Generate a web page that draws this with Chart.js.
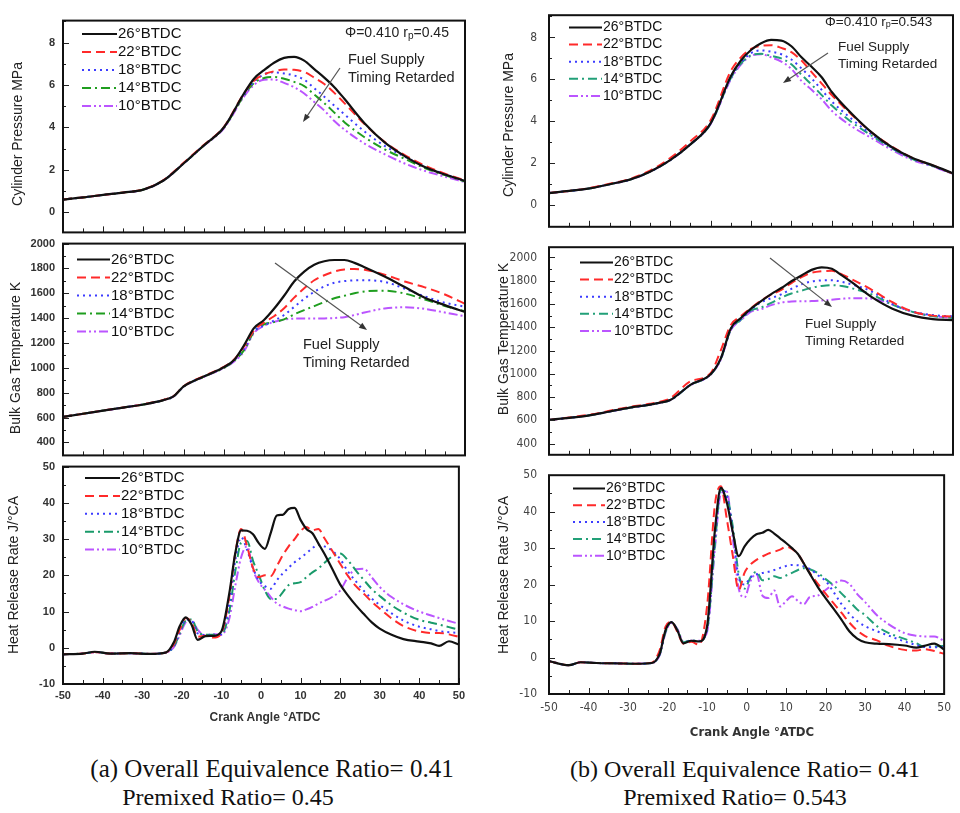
<!DOCTYPE html>
<html>
<head>
<meta charset="utf-8">
<script src="https://cdn.jsdelivr.net/npm/chart.js"></script>
<style>
  body { margin: 0; background: #fff; }
  #fig { position: relative; width: 960px; height: 813px; overflow: hidden; font-family: 'Liberation Sans', Arial, sans-serif; }
  #fig canvas { position: absolute; }
  .lbl { position: absolute; white-space: nowrap; color: #222; }
</style>
</head>
<body>
<div id="fig"></div>
<script>
// series names (legend)
const timingLabels = ['26°BTDC', '22°BTDC', '18°BTDC', '14°BTDC', '10°BTDC'];

// tick labels
const xTicks = [-50, -40, -30, -20, -10, 0, 10, 20, 30, 40, 50];
const yTicksP = [0, 2, 4, 6, 8];
const yTicksT = [400, 600, 800, 1000, 1200, 1400, 1600, 1800, 2000];
const yTicksH = [-10, 0, 10, 20, 30, 40, 50];

// crank angle grids (°ATDC)
const angleP = [-50,-45,-40,-35,-30,-25,-20,-15,-10,-5,-2.5,0,2.5,5,7.5,10,12.5,15,17.5,20,25,30,35,40,45,50];
const angleT = [-50,-45,-40,-35,-30,-25,-22.5,-20,-15,-10,-7.5,-5,-2.5,0,2.5,5,7.5,10,12.5,15,17.5,20,22.5,25,30,35,40,45,50];
const angleH = [-50,-45,-42,-38,-33,-28,-24,-22,-20.5,-19,-17.5,-16,-14,-12,-10,-8,-6.5,-5,-3.5,-2,-0.5,1,2.5,4,5.5,7,8.5,10,11.5,13,14.5,16,18,20,22,24,26,28,30,33,36,40,43,45,47.5,50];

// (a) cylinder pressure, MPa
const pA26 = [0.6,0.7,0.82,0.93,1.07,1.5,2.3,3.15,4.0,5.6,6.3,6.7,7.05,7.28,7.33,7.15,6.75,6.35,5.9,5.35,4.2,3.3,2.65,2.13,1.78,1.48];
const pA22 = [0.6,0.7,0.82,0.93,1.08,1.52,2.33,3.17,4.02,5.6,6.2,6.5,6.65,6.73,6.72,6.62,6.35,6.05,5.63,5.15,4.16,3.32,2.7,2.2,1.82,1.5];
const pA18 = [0.6,0.7,0.82,0.93,1.07,1.5,2.3,3.15,4.0,5.55,6.15,6.5,6.6,6.55,6.45,6.25,5.85,5.45,5.03,4.62,3.81,3.13,2.62,2.15,1.8,1.47];
const pA14 = [0.6,0.7,0.82,0.93,1.07,1.5,2.3,3.14,3.98,5.5,6.1,6.33,6.38,6.3,6.15,5.95,5.55,5.15,4.7,4.25,3.54,2.97,2.52,2.08,1.75,1.45];
const pA10 = [0.6,0.7,0.82,0.93,1.07,1.5,2.3,3.13,3.95,5.45,6.0,6.25,6.26,6.1,5.9,5.6,5.2,4.8,4.3,3.9,3.24,2.74,2.3,1.95,1.68,1.42];

// (a) bulk gas temperature, K
const tA26 = [605,630,656,680,705,740,770,850,930,1005,1060,1180,1320,1385,1475,1580,1695,1775,1830,1858,1868,1868,1845,1810,1735,1650,1565,1505,1450];
const tA22 = [605,630,656,680,706,742,772,852,932,1008,1065,1170,1300,1366,1415,1480,1565,1640,1705,1745,1775,1792,1795,1790,1750,1695,1648,1590,1515];
const tA18 = [605,630,656,680,705,740,770,850,930,1003,1058,1150,1295,1340,1380,1425,1490,1555,1612,1655,1685,1698,1704,1705,1692,1637,1575,1524,1492];
const tA14 = [605,630,656,680,705,740,770,848,928,1000,1055,1140,1290,1350,1368,1390,1430,1465,1497,1530,1560,1580,1600,1615,1621,1598,1550,1498,1455];
const tA10 = [605,630,656,680,705,740,770,846,926,998,1050,1130,1280,1338,1370,1388,1396,1397,1397,1398,1401,1408,1425,1445,1478,1487,1475,1445,1415];

// (a) heat release rate, J/°CA
const hA26 = [-1.8,-1.6,-1.1,-1.6,-1.5,-1.7,-1.3,1.5,6.0,8.4,6.3,2.2,3.2,3.3,4.5,15,26,32.4,32.3,31.3,28.8,27.3,31.8,36.5,36.7,38.3,38.6,35.3,32.8,31.6,28.8,26,21.8,17.5,14.4,11.7,9.3,7.0,5.3,3.6,2.4,1.7,1.2,0.5,1.8,0.9];
const hA22 = [-1.8,-1.6,-1.2,-1.6,-1.5,-1.7,-1.3,1.0,5.0,8.2,7.0,3.0,3.3,2.8,4.0,14,26,32.8,28,22,19.5,20,19.8,22.5,25.5,28,30,32.2,33.3,32.4,32.8,30.3,26.8,23.2,19.8,17,14.9,12.7,10.8,8.1,6.0,4.5,4.1,4.1,3.7,3.0];
const hA18 = [-1.8,-1.6,-1.2,-1.6,-1.5,-1.7,-1.3,0.5,4.5,7.8,7.5,4.0,3.5,3.3,3.8,12,24,30.5,27,22,18.5,17,16.3,18.6,20.5,22.1,23.6,24.8,26.1,27.5,28.4,28,26.8,24.5,21,18.3,15.7,13.6,11.8,9.5,7.5,5.8,5.1,4.6,4.3,4.1];
const hA14 = [-1.8,-1.6,-1.2,-1.6,-1.5,-1.7,-1.3,0.3,4.0,7.5,7.8,4.5,3.6,3.6,3.7,10,21,29,29.5,24,20,15.8,13.4,13.5,15.3,17.3,17.8,18.1,19.5,20.8,21.9,23.4,25.2,26,24.1,21.3,18.7,16.2,14.3,11.7,9.7,7.7,6.9,6.4,5.7,5.0];
const hA10 = [-1.8,-1.6,-1.2,-1.6,-1.5,-1.7,-1.3,0.2,3.5,7.0,7.6,5.0,3.4,3.8,3.5,8,17,25,28,21.5,18,16,14,12.2,11.4,10.8,10.4,10.1,10.6,11.3,12.2,12.9,14,15.8,19.5,21.7,21.8,19.4,16.8,14,12,10,8.9,8.2,7.4,6.6];

// (b) cylinder pressure, MPa
const pB26 = [0.58,0.68,0.8,1.0,1.22,1.6,2.15,2.9,3.9,6.15,6.9,7.4,7.72,7.88,7.85,7.58,7.05,6.6,6.1,5.4,4.35,3.45,2.75,2.25,1.9,1.52];
const pB22 = [0.58,0.68,0.82,1.02,1.25,1.65,2.25,3.05,4.05,6.4,7.05,7.45,7.6,7.63,7.5,7.3,6.9,6.35,5.8,5.25,4.3,3.45,2.78,2.25,1.9,1.5];
const pB18 = [0.58,0.68,0.8,1.0,1.22,1.6,2.15,2.9,3.9,6.1,6.8,7.25,7.38,7.32,7.2,6.95,6.52,6.05,5.5,4.95,4.1,3.35,2.72,2.22,1.88,1.5];
const pB14 = [0.58,0.68,0.8,1.0,1.22,1.6,2.15,2.9,3.88,6.05,6.75,7.15,7.22,7.12,7.0,6.72,6.22,5.75,5.25,4.75,3.95,3.3,2.7,2.2,1.87,1.5];
const pB10 = [0.58,0.68,0.8,1.0,1.22,1.6,2.15,2.9,3.87,6.0,6.7,7.12,7.2,7.05,6.85,6.5,5.93,5.5,5.05,4.5,3.75,3.18,2.62,2.15,1.85,1.48];

// (b) bulk gas temperature, K
const tB26 = [604,622,643,676,709,735,752,774,905,996,1130,1390,1480,1560,1625,1685,1737,1795,1845,1893,1915,1902,1846,1785,1657,1560,1500,1470,1462];
const tB22 = [604,624,648,682,716,742,760,790,935,1005,1200,1420,1495,1565,1630,1680,1722,1780,1830,1868,1882,1885,1855,1812,1720,1615,1535,1500,1492];
const tB18 = [604,622,643,676,709,735,752,774,905,996,1130,1385,1470,1550,1615,1650,1683,1730,1770,1793,1803,1805,1790,1768,1705,1600,1535,1505,1493];
const tB14 = [604,622,643,676,709,735,752,774,903,994,1125,1380,1465,1545,1570,1610,1655,1690,1715,1740,1755,1762,1755,1735,1680,1595,1532,1495,1480];
const tB10 = [604,622,643,676,709,735,752,774,902,992,1120,1375,1460,1535,1555,1590,1612,1622,1624,1625,1630,1637,1645,1650,1645,1595,1532,1497,1480];

// (b) heat release rate, J/°CA
const hB26 = [-1.0,-2.1,-1.3,-1.5,-1.6,-1.7,-1.5,1.0,7.5,9.7,7.4,3.9,4.6,4.4,8.5,35,46.5,42.5,34.5,27.8,30.5,32.5,33.8,34.2,35,34,32.7,31.4,30,28.4,25.8,23,19.4,16.3,13.4,10.4,7.2,5.2,4.2,3.8,3.7,3.3,2.7,3.2,3.8,2.2];
const hB22 = [-1.0,-2.1,-1.3,-1.5,-1.6,-1.7,-1.4,2.0,8.5,9.8,7.0,3.8,4.3,3.5,14,42,47,38,28,18.5,23.3,25.5,26.8,27.7,28.5,29,29.6,30.4,29.8,28.4,25.8,23.2,20.3,17.5,14.9,12.3,9.6,7.4,5.9,4.7,3.2,2.1,1.9,2.3,1.8,1.0];
const hB18 = [-1.0,-2.1,-1.3,-1.5,-1.6,-1.7,-1.5,1.0,7.5,9.7,7.4,4.0,4.6,4.4,8,33,46.5,44,35,22,20,22,22.8,23.2,23.5,24,24.6,25.1,25.4,25.3,25,24.3,22.6,21,18,14.7,12,10,8.6,7.2,6,4.4,3.4,2.9,2.8,2.8];
const hB14 = [-1.0,-2.1,-1.3,-1.5,-1.6,-1.7,-1.5,0.8,7.0,9.6,7.6,4.2,4.7,4.5,7.5,31,46,44.5,36,23,18.9,22,23.5,21.2,21.5,22.3,21.8,22.5,23.2,24,24.5,24.2,23.2,21.5,19.8,17.6,15.4,13.2,11.6,8.6,6.7,5.1,3.9,2.9,3.0,3.2];
const hB10 = [-1.0,-2.1,-1.3,-1.5,-1.6,-1.7,-1.5,0.6,6.8,9.5,7.8,4.4,4.6,4.6,7,30,45,45.5,33,19,16.5,21,23,17,16.3,18.4,14,15.5,16.8,15.5,14.6,16.6,17,18.5,20.2,21.1,20.2,17.4,15.2,11.6,9.1,6.7,6,5.8,5.8,4.5];

const fig = document.getElementById('fig');
const SANS = "'Liberation Sans', Arial, sans-serif";
const NARROW = "'Liberation Sans Narrow', 'DejaVu Sans Condensed', 'Liberation Sans', sans-serif";

// line styles per timing
const lineDash = [[], [9, 5], [2, 4], [9, 4, 2, 4], [9, 3, 2, 3, 2, 3]];
function colours(green) {
  return ['#111111', '#ff2a2a', '#3c3cff', green, '#bb55ff'];
}

// draws frame, inward ticks, legend and notes
const panelDecor = {
  id: 'panelDecor',
  afterDatasetsDraw(chart) {
    const o = chart.options.plugins.panelDecor;
    const ctx = chart.ctx, a = chart.chartArea;
    const xs = chart.scales.x, ys = chart.scales.y;
    ctx.save();
    ctx.strokeStyle = '#222';
    ctx.lineWidth = 1;
    ctx.beginPath();
    for (let v = -50; v <= 50; v += 5) {
      const px = Math.round(xs.getPixelForValue(v)) + 0.5;
      const len = v % 10 === 0 ? 6 : 4;
      ctx.moveTo(px, a.bottom);
      ctx.lineTo(px, a.bottom - len);
    }
    const majors = o.yTicks;
    const first = Math.ceil(ys.min / o.minor) * o.minor;
    for (let v = first; v <= ys.max + 1e-9; v += o.minor) {
      const py = Math.round(ys.getPixelForValue(v)) + 0.5;
      const major = majors.some((m) => Math.abs(m - v) < 1e-6);
      ctx.moveTo(a.left, py);
      ctx.lineTo(a.left + (major ? 6 : 3), py);
    }
    ctx.stroke();
    ctx.lineWidth = 2;
    ctx.strokeStyle = '#111';
    ctx.strokeRect(a.left, a.top, a.right - a.left, a.bottom - a.top);

    // legend
    const lg = o.legend;
    ctx.textBaseline = 'middle';
    ctx.textAlign = 'left';
    chart.data.datasets.forEach((ds, i) => {
      const y = lg.y - o.oy + i * lg.dy;
      ctx.strokeStyle = ds.borderColor;
      ctx.lineWidth = 2;
      ctx.setLineDash(ds.borderDash);
      ctx.beginPath();
      ctx.moveTo(lg.x1 - o.ox, y);
      ctx.lineTo(lg.x2 - o.ox, y);
      ctx.stroke();
      ctx.setLineDash([]);
      ctx.fillStyle = '#111';
      ctx.font = lg.size + 'px ' + SANS;
      ctx.fillText(ds.label, lg.x2 - o.ox + 1, y);
    });

    // notes
    (o.notes || []).forEach((n) => {
      if (n.kind === 'text') {
        ctx.fillStyle = '#222';
        ctx.font = n.size + 'px ' + SANS;
        ctx.fillText(n.t, n.x - o.ox, n.y - o.oy);
      } else if (n.kind === 'phi') {
        ctx.fillStyle = '#222';
        let x = n.x - o.ox;
        const y = n.y - o.oy;
        ctx.font = n.size + 'px ' + SANS;
        ctx.fillText(n.pre, x, y);
        x += ctx.measureText(n.pre).width;
        ctx.font = Math.round(n.size * 0.7) + 'px ' + SANS;
        ctx.fillText(n.sub, x, y + 3);
        x += ctx.measureText(n.sub).width;
        ctx.font = n.size + 'px ' + SANS;
        ctx.fillText(n.post, x, y);
      } else if (n.kind === 'arrow') {
        const x1 = n.x1 - o.ox, y1 = n.y1 - o.oy, x2 = n.x2 - o.ox, y2 = n.y2 - o.oy;
        const ang = Math.atan2(y2 - y1, x2 - x1);
        ctx.strokeStyle = '#555';
        ctx.fillStyle = '#333';
        ctx.lineWidth = 1.2;
        ctx.beginPath();
        ctx.moveTo(x1, y1);
        ctx.lineTo(x2 - 5 * Math.cos(ang), y2 - 5 * Math.sin(ang));
        ctx.stroke();
        ctx.beginPath();
        ctx.moveTo(x2, y2);
        ctx.lineTo(x2 - 8 * Math.cos(ang) + 3 * Math.sin(ang), y2 - 8 * Math.sin(ang) - 3 * Math.cos(ang));
        ctx.lineTo(x2 - 8 * Math.cos(ang) - 3 * Math.sin(ang), y2 - 8 * Math.sin(ang) + 3 * Math.cos(ang));
        ctx.closePath();
        ctx.fill();
      }
    });
    ctx.restore();
  }
};

const fuelNote = (x, y1, y2, size) => [
  { kind: 'text', t: 'Fuel Supply', x: x, y: y1, size: size },
  { kind: 'text', t: 'Timing Retarded', x: x, y: y2, size: size }
];

const panels = [
  { col: 0, rect: [63, 15, 465, 238], x: angleP, ys: [pA26, pA22, pA18, pA14, pA10], min: -0.95, max: 9.04, ticks: yTicksP, minor: 1,
    green: '#1f9e1f', legend: { x1: 82, x2: 117, y: 34, dy: 18, size: 15 },
    notes: [{ kind: 'phi', x: 345, y: 33, pre: 'Φ=0.410 r', sub: 'p', post: '=0.45', size: 14 },
            ...fuelNote(348, 60, 78, 14.5), { kind: 'arrow', x1: 340, y1: 68, x2: 303, y2: 122 }] },
  { col: 0, rect: [63, 238, 465, 461], x: angleT, ys: [tA26, tA22, tA18, tA14, tA10], min: 295, max: 2000, ticks: yTicksT, minor: 100,
    green: '#1f9e1f', legend: { x1: 77, x2: 110, y: 259.5, dy: 18, size: 15 },
    notes: [...fuelNote(303, 345, 363, 14.5), { kind: 'arrow', x1: 275, y1: 263, x2: 367, y2: 330 }] },
  { col: 0, rect: [63, 461, 465, 684], x: angleH, ys: [hA26, hA22, hA18, hA14, hA10], min: -10, max: 50, ticks: yTicksH, minor: 5,
    green: '#199a6a', bottom: true, legend: { x1: 85, x2: 120, y: 478, dy: 17.9, size: 15 }, notes: [] },
  { col: 1, rect: [549, 5, 953, 237], x: angleP, ys: [pB26, pB22, pB18, pB14, pB10], min: -1.03, max: 9.06, ticks: yTicksP, minor: 1,
    green: '#22a078', legend: { x1: 569, x2: 602, y: 27.5, dy: 17.1, size: 14 },
    notes: [{ kind: 'phi', x: 825, y: 22, pre: 'Φ=0.410 r', sub: 'p', post: '=0.543', size: 13.5 },
            ...fuelNote(838, 47, 64, 13.5), { kind: 'arrow', x1: 828, y1: 53, x2: 783, y2: 83 }] },
  { col: 1, rect: [549, 237, 953, 465], x: angleT, ys: [tB26, tB22, tB18, tB14, tB10], min: 304, max: 2088, ticks: yTicksT, minor: 100,
    green: '#22a078', legend: { x1: 580, x2: 613, y: 262.5, dy: 17.1, size: 14 },
    notes: [...fuelNote(805, 324, 341, 13.5), { kind: 'arrow', x1: 770, y1: 258, x2: 832, y2: 307 }] },
  { col: 1, rect: [549, 465, 953, 694], x: angleH, ys: [hB26, hB22, hB18, hB14, hB10], min: -10, max: 50, ticks: yTicksH, minor: 5,
    green: '#22a078', bottom: true, legend: { x1: 573, x2: 605, y: 488.5, dy: 16.8, size: 14 }, notes: [] }
];

function makePanel(p) {
  const padL = p.col === 0 ? 63 : 59;
  const padR = 5, padT = 9, padB = p.bottom ? 24 : 9;
  const [L, T, R, B] = p.rect;
  const ox = L - padL, oy = T - padT;
  const w = R - L + padL + padR, h = B - T + padT + padB;
  const cv = document.createElement('canvas');
  cv.width = w;
  cv.height = h;
  cv.style.left = ox + 'px';
  cv.style.top = oy + 'px';
  cv.style.width = w + 'px';
  cv.style.height = h + 'px';
  fig.appendChild(cv);

  const cols = colours(p.green);
  const tickFont = p.col === 0
    ? { family: SANS, size: 11, weight: 'bold' }
    : { family: NARROW, size: 12 };
  const tickColor = p.col === 0 ? '#333' : '#444';

  const datasets = p.ys.map((vals, i) => ({
    label: timingLabels[i],
    data: p.x.map((a, k) => ({ x: a, y: vals[k] })),
    borderColor: cols[i],
    borderDash: lineDash[i],
    borderWidth: i === 0 ? 2.2 : 2,
    pointRadius: 0,
    fill: false,
    cubicInterpolationMode: 'monotone'
  }));

  new Chart(cv.getContext('2d'), {
    type: 'line',
    data: { datasets },
    options: {
      responsive: false,
      animation: false,
      devicePixelRatio: 1,
      layout: { padding: { left: 0, top: padT, right: padR, bottom: 0 } },
      scales: {
        x: {
          type: 'linear', min: -50, max: 50,
          grid: { display: false, drawTicks: false },
          border: { display: false },
          ticks: { display: !!p.bottom, padding: p.col === 0 ? 5 : 7, font: tickFont, color: tickColor, maxRotation: 0,
                   autoSkip: false, callback: (v) => String(v) },
          afterBuildTicks: (s) => { s.ticks = xTicks.map((v) => ({ value: v })); },
          afterFit: (s) => { s.height = padB; }
        },
        y: {
          type: 'linear', min: p.min, max: p.max,
          grid: { display: false, drawTicks: false },
          border: { display: false },
          ticks: { padding: p.col === 0 ? 8 : 12, font: tickFont, color: tickColor, autoSkip: false,
                   callback: (v) => String(v) },
          afterBuildTicks: (s) => { s.ticks = p.ticks.map((v) => ({ value: v })); },
          afterFit: (s) => { s.width = padL; }
        }
      },
      plugins: {
        legend: { display: false },
        tooltip: { enabled: false },
        panelDecor: { ox, oy, yTicks: p.ticks, minor: p.minor, legend: p.legend, notes: p.notes }
      }
    },
    plugins: [panelDecor]
  });
}

panels.forEach(makePanel);

// axis titles and captions
const labels = [
  { t: 'Cylinder Pressure MPa', x: 16.5, y: 134, rot: true, css: 'font-size:14px' },
  { t: 'Bulk Gas Temperature K', x: 15, y: 358, rot: true, css: 'font-size:14px' },
  { t: 'Heat Release Rate J/°CA', x: 13, y: 575, rot: true, css: 'font-size:14px' },
  { t: 'Cylinder Pressure MPa', x: 508, y: 125, rot: true, css: 'font-size:14px' },
  { t: 'Bulk Gas Temperature K', x: 503, y: 339, rot: true, css: 'font-size:14px' },
  { t: 'Heat Release Rate J/°CA', x: 503, y: 575, rot: true, css: 'font-size:14px' },
  { t: 'Crank Angle °ATDC', x: 265, y: 717, css: 'font-size:12px;font-weight:bold;color:#333' },
  { t: 'Crank Angle °ATDC', x: 752, y: 731, css: "font-size:13px;font-family:" + NARROW + ";font-weight:bold;color:#333" },
  { t: '(a) Overall Equivalence Ratio= 0.41', x: 272, y: 769, css: "font-size:25px;font-family:'Liberation Serif',serif;color:#111" },
  { t: 'Premixed Ratio= 0.45', x: 228, y: 797, css: "font-size:24px;font-family:'Liberation Serif',serif;color:#111" },
  { t: '(b) Overall Equivalence Ratio= 0.41', x: 745, y: 769, css: "font-size:24px;font-family:'Liberation Serif',serif;color:#111" },
  { t: 'Premixed Ratio= 0.543', x: 735, y: 797, css: "font-size:24px;font-family:'Liberation Serif',serif;color:#111" }
];
labels.forEach((l) => {
  const d = document.createElement('div');
  d.className = 'lbl';
  d.textContent = l.t;
  d.style.cssText += l.css;
  d.style.left = l.x + 'px';
  d.style.top = l.y + 'px';
  d.style.transform = 'translate(-50%, -50%)' + (l.rot ? ' rotate(-90deg)' : '');
  fig.appendChild(d);
});
</script>
</body>
</html>
